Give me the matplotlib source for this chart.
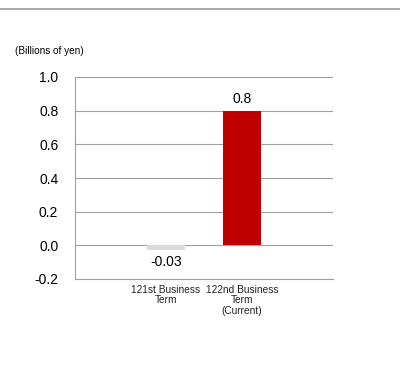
import matplotlib
matplotlib.use("Agg")
import matplotlib.pyplot as plt
from matplotlib.lines import Line2D

terms = ["121st Business\nTerm", "122nd Business\nTerm\n(Current)"]
values = [-0.03, 0.8]
labels = ["-0.03", "0.8"]
colors = ["#D9D9D9", "#C00000"]
yticks = [-0.2, 0.0, 0.2, 0.4, 0.6, 0.8, 1.0]

plt.rcParams['font.family'] = ['Liberation Sans', 'DejaVu Sans']

fig = plt.figure(figsize=(4.0, 3.78), dpi=100)
ax = fig.add_axes((75 / 400, 1 - 279 / 378, 258 / 400, 202 / 378))

x = range(len(values))
ax.bar(x, values, width=0.5, color=colors, zorder=3)
for xi, v, lab in zip(x, values, labels):
    if v < 0:
        ax.text(xi, v - 0.03, lab, ha='center', va='top', fontsize=10)
    else:
        ax.text(xi, v + 0.03, lab, ha='center', va='bottom', fontsize=10)

ax.set_xlim(-1.2, 2.2)
ax.set_ylim(-0.2, 1.0)
ax.set_yticks(yticks)
ax.set_yticklabels(["%.1f" % t for t in yticks], fontsize=10)
ax.set_xticks(list(x))
ax.set_xticklabels(terms, fontsize=7.3, linespacing=1.1, color='#222222')
ax.tick_params(axis='both', length=0, pad=4)
ax.tick_params(axis='y', pad=12)
ax.yaxis.grid(True, color='#A0A0A0', linewidth=0.8, zorder=0)
for s in ['top', 'right']:
    ax.spines[s].set_visible(False)
for s in ['left', 'bottom']:
    ax.spines[s].set_color('#A0A0A0')
    ax.spines[s].set_linewidth(0.8)

fig.text(15 / 400, 1 - 51 / 378, "(Billions of yen)", fontsize=7.2, va='center')
fig.add_artist(Line2D([0, 1], [1 - 9 / 378, 1 - 9 / 378], color='#999999',
                      linewidth=1.2, transform=fig.transFigure))

fig.savefig("out.png", dpi=100)
